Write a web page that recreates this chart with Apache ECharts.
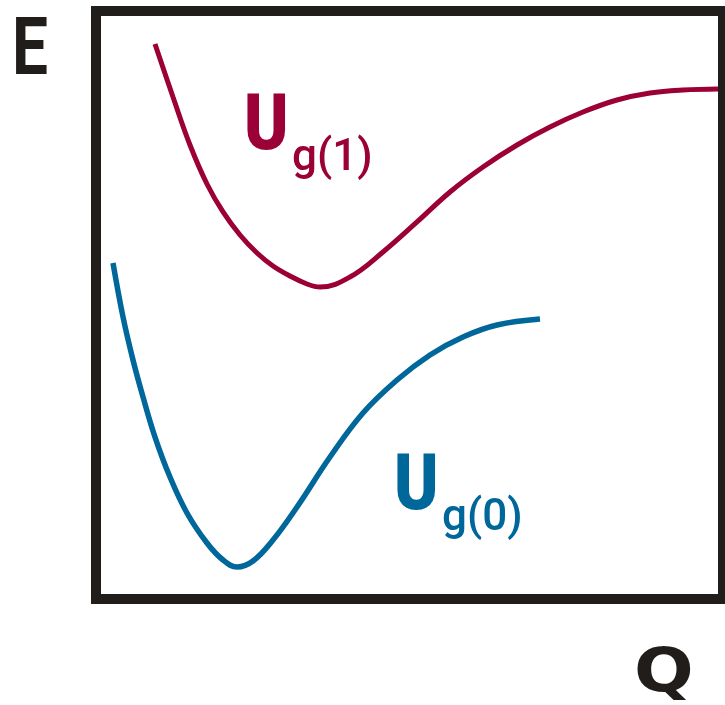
<!DOCTYPE html>
<html>
<head>
<meta charset="utf-8">
<script src="https://cdn.jsdelivr.net/npm/echarts@6/dist/echarts.min.js"></script>
<style>
  html, body { margin: 0; padding: 0; background: #ffffff; }
  #chart { width: 725px; height: 705px; }
</style>
</head>
<body>
<div id="chart"></div>
<script>
// Potential energy curves E(Q) for the ground state g(0) and excited state g(1)
var qExcited = [0.941, 1.228, 1.499, 1.770, 2.026, 2.297, 2.568, 2.823, 3.094, 3.365, 3.573, 4.051, 4.577, 5.120, 5.646, 6.172, 6.715, 7.241, 7.767, 8.309, 8.836, 9.362, 9.920];
var eExcited = [9.439, 8.537, 7.721, 7.058, 6.582, 6.190, 5.884, 5.663, 5.493, 5.357, 5.306, 5.476, 5.901, 6.412, 6.922, 7.347, 7.721, 8.027, 8.282, 8.486, 8.605, 8.656, 8.673];

var qGround = [0.271, 0.431, 0.590, 0.750, 0.941, 1.180, 1.451, 1.770, 2.026, 2.249, 2.504, 2.823, 3.206, 3.732, 4.258, 4.801, 5.327, 5.853, 6.396, 7.081];
var eGround = [5.714, 4.796, 4.065, 3.435, 2.755, 2.075, 1.463, 0.952, 0.663, 0.544, 0.646, 1.003, 1.565, 2.415, 3.163, 3.724, 4.150, 4.456, 4.660, 4.762];

var axisTitleY = 'E';
var axisTitleX = 'Q';
var labelMain = 'U';
var labelExcited = 'g(1)';
var labelGround = 'g(0)';

function pairs(xs, ys) {
  return xs.map(function (x, i) { return [x, ys[i]]; });
}

var RED = '#9b0036';
var BLUE = '#00679b';
var INK = '#211d1a';

var chart = echarts.init(document.getElementById('chart'), null, { renderer: 'canvas' });

var hidden = {
  axisLine: { show: false },
  axisTick: { show: false },
  axisLabel: { show: false },
  splitLine: { show: false }
};

chart.setOption({
  animation: false,
  backgroundColor: '#ffffff',
  grid: {
    show: true,
    left: 96, top: 11, right: 2, bottom: 106,
    borderColor: INK,
    borderWidth: 10,
    backgroundColor: 'transparent'
  },
  xAxis: Object.assign({ type: 'value', min: 0, max: 10 }, hidden),
  yAxis: Object.assign({ type: 'value', min: 0, max: 10 }, hidden),
  series: [
    {
      name: 'Ug(1)',
      type: 'line',
      data: pairs(qExcited, eExcited),
      smooth: 0.4,
      showSymbol: false,
      lineStyle: { color: RED, width: 5, cap: 'butt' }
    },
    {
      name: 'Ug(0)',
      type: 'line',
      data: pairs(qGround, eGround),
      smooth: 0.4,
      showSymbol: false,
      lineStyle: { color: BLUE, width: 5.5, cap: 'butt' }
    }
  ],
  graphic: [
    { type: 'text', x: 12, y: 54, scaleX: 0.8,
      style: { text: axisTitleY, fill: INK, font: 'bold 80px Roboto', textAlign: 'left', textVerticalAlign: 'middle' } },
    { type: 'text', x: 634, y: 675, scaleX: 1.15,
      style: { text: axisTitleX, fill: INK, font: 'bold 61px "DejaVu Sans"', textAlign: 'left', textVerticalAlign: 'middle' } },
    { type: 'text', x: 244, y: 129, scaleX: 0.86,
      style: { text: labelMain, fill: RED, font: '900 78px Roboto', textAlign: 'left', textVerticalAlign: 'middle' } },
    { type: 'text', x: 292, y: 159,
      style: { text: labelExcited, fill: RED, font: '500 44px Roboto', textAlign: 'left', textVerticalAlign: 'middle' } },
    { type: 'text', x: 394, y: 489, scaleX: 0.86,
      style: { text: labelMain, fill: BLUE, font: '900 78px Roboto', textAlign: 'left', textVerticalAlign: 'middle' } },
    { type: 'text', x: 442, y: 519,
      style: { text: labelGround, fill: BLUE, font: '500 44px Roboto', textAlign: 'left', textVerticalAlign: 'middle' } }
  ]
});
</script>
</body>
</html>
